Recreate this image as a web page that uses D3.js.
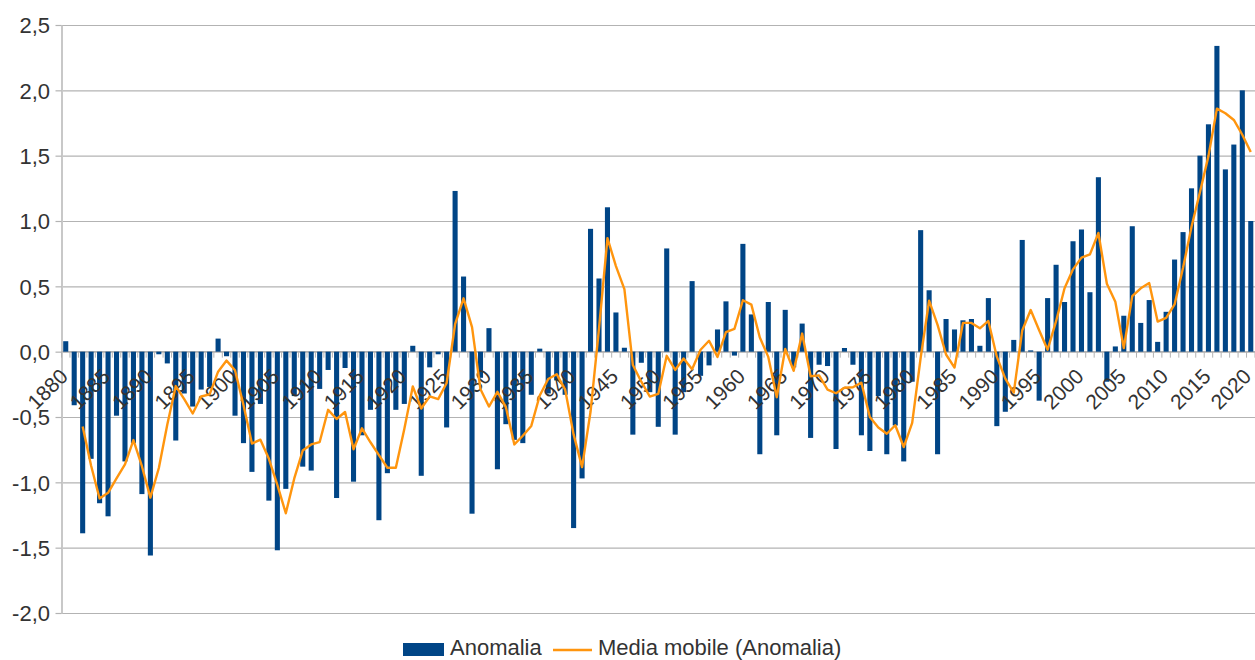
<!DOCTYPE html>
<html>
<head>
<meta charset="utf-8">
<script src="https://cdn.jsdelivr.net/npm/d3@7"></script>
<style>
  body { margin: 0; background: #ffffff; }
  text { font-family: "Liberation Sans", Arial, sans-serif; fill: #333333; }
</style>
</head>
<body>
<svg id="chart" width="1255" height="660"></svg>
<script>
// Annual temperature anomaly, one value per year starting at firstYear
const firstYear = 1880;
const anomalia = [
  0.08, -0.41, -1.39, -0.82, -1.16, -1.26, -0.49, -0.84, -0.70, -1.09,   // 1880s
  -1.56, -0.02, -0.09, -0.68, -0.32, -0.42, -0.29, -0.27, 0.10, -0.035,  // 1890s
  -0.49, -0.70, -0.92, -0.40, -1.14, -1.52, -1.05, -0.34, -0.88, -0.91,  // 1900s
  -0.285, -0.14, -1.12, -0.125, -0.995, -0.64, -0.445, -1.29, -0.93, -0.445, // 1910s
  -0.40, 0.045, -0.95, -0.12, -0.02, -0.58, 1.23, 0.575, -1.24, -0.20,   // 1920s
  0.18, -0.90, -0.555, -0.675, -0.70, -0.33, 0.023, -0.32, -0.22, -0.33, // 1930s
  -1.35, -0.97, 0.94, 0.56, 1.105, 0.30, 0.03, -0.635, -0.085, -0.31,    // 1940s
  -0.575, 0.79, -0.635, -0.31, 0.54, -0.185, -0.105, 0.17, 0.385, -0.03, // 1950s
  0.825, 0.285, -0.785, 0.38, -0.64, 0.32, -0.12, 0.215, -0.66, -0.10,   // 1960s
  -0.11, -0.745, 0.028, -0.10, -0.64, -0.76, -0.34, -0.785, -0.565, -0.84, // 1970s
  -0.23, 0.93, 0.47, -0.785, 0.25, 0.17, 0.24, 0.25, 0.045, 0.41,        // 1980s
  -0.57, -0.46, 0.09, 0.855, 0.01, -0.375, 0.41, 0.665, 0.38, 0.845,     // 1990s
  0.935, 0.455, 1.335, -0.23, 0.04, 0.275, 0.96, 0.22, 0.395, 0.075,     // 2000s
  0.305, 0.705, 0.915, 1.25, 1.50, 1.74, 2.34, 1.395, 1.585, 2.0,        // 2010s
  1.0                                                                   // 2020
];

// Moving-average period of the trend line
const movingPeriod = 3;

const yTicks = [-2, -1.5, -1, -0.5, 0, 0.5, 1, 1.5, 2, 2.5];
const yTickLabels = ["-2,0", "-1,5", "-1,0", "-0,5", "0,0", "0,5", "1,0", "1,5", "2,0", "2,5"];
const xTickLabels = ["1880", "1885", "1890", "1895", "1900", "1905", "1910", "1915", "1920",
  "1925", "1930", "1935", "1940", "1945", "1950", "1955", "1960", "1965", "1970", "1975",
  "1980", "1985", "1990", "1995", "2000", "2005", "2010", "2015", "2020"];
const seriesNames = ["Anomalia", "Media mobile (Anomalia)"];

const barColor = "#004586";
const lineColor = "#ff950e";
const gridColor = "#b3b3b3";

const years = anomalia.map((_, i) => firstYear + i);

const svg = d3.select("#chart");
const plot = { left: 61.5, right: 1255, top: 25, bottom: 613 };

const x = d3.scaleBand()
  .domain(years)
  .range([plot.left, plot.right])
  .paddingInner(0.4)
  .paddingOuter(0.2);

const y = d3.scaleLinear()
  .domain([-2, 2.5])
  .range([plot.bottom, plot.top]);

// Horizontal grid lines
const grid = svg.append("g")
  .attr("transform", `translate(${plot.left},0)`)
  .call(d3.axisLeft(y).tickValues(yTicks).tickFormat("")
    .tickSize(-(plot.right - plot.left)).tickSizeOuter(0));
grid.select(".domain").remove();
grid.selectAll(".tick line").attr("stroke", gridColor).attr("stroke-width", 1.2);

// Value axis with outward ticks and labels
const yAxis = svg.append("g")
  .attr("transform", `translate(${plot.left},0)`)
  .call(d3.axisLeft(y).tickValues(yTicks)
    .tickFormat((d, i) => yTickLabels[i])
    .tickSize(6).tickSizeOuter(0).tickPadding(5.5));
yAxis.select(".domain").attr("stroke", "#c8c8c8").attr("stroke-width", 2);
yAxis.selectAll(".tick line").attr("stroke", gridColor).attr("stroke-width", 1.2);
yAxis.selectAll(".tick text")
  .attr("font-size", 22)
  .attr("font-family", "Liberation Sans, Arial, sans-serif")
  .attr("fill", "#333333")
  .attr("dy", "0.36em");

// Category axis along the zero line, ticks on band boundaries
const zeroY = y(0);
const xAxis = svg.append("g");
xAxis.append("line")
  .attr("x1", plot.left).attr("x2", plot.right)
  .attr("y1", zeroY).attr("y2", zeroY)
  .attr("stroke", gridColor).attr("stroke-width", 1.2);
const boundaries = years.map(yr => x(yr) - x.step() * x.paddingInner() / 2)
  .concat([plot.right]);
xAxis.selectAll("line.boundary")
  .data(boundaries)
  .join("line")
  .attr("class", "boundary")
  .attr("x1", d => d).attr("x2", d => d)
  .attr("y1", zeroY).attr("y2", zeroY + 6)
  .attr("stroke", gridColor).attr("stroke-width", 1);

// Anomaly bars
svg.append("g")
  .selectAll("rect")
  .data(years.map((yr, i) => ({ yr, v: anomalia[i] })))
  .join("rect")
  .attr("x", d => x(d.yr))
  .attr("width", x.bandwidth())
  .attr("y", d => y(Math.max(0, d.v)))
  .attr("height", d => Math.abs(y(d.v) - y(0)))
  .attr("fill", barColor);

// Rotated year labels every five years
svg.append("g")
  .selectAll("text")
  .data(xTickLabels)
  .join("text")
  .attr("transform", d => {
    const cx = x(+d) + x.bandwidth() / 2;
    return `translate(${Math.min(cx + 3.5, plot.right - 2.5)},${zeroY + 26}) rotate(-45)`;
  })
  .attr("text-anchor", "end")
  .attr("font-size", 21)
  .text(d => d);

// Trend line: trailing moving average of the anomaly series
const trend = years.map((yr, i) => {
  if (i < movingPeriod - 1) return null;
  return { yr, v: d3.mean(anomalia.slice(i - movingPeriod + 1, i + 1)) };
}).filter(d => d !== null);

svg.append("path")
  .datum(trend)
  .attr("fill", "none")
  .attr("stroke", lineColor)
  .attr("stroke-width", 2.4)
  .attr("stroke-linejoin", "round")
  .attr("d", d3.line()
    .x(d => x(d.yr) + x.bandwidth() / 2)
    .y(d => y(d.v)));

// Legend
const legend = svg.append("g");
legend.append("rect")
  .attr("x", 403).attr("y", 643).attr("width", 41).attr("height", 13)
  .attr("fill", barColor);
legend.append("text")
  .attr("x", 450).attr("y", 655)
  .attr("font-size", 22)
  .text(seriesNames[0]);
legend.append("line")
  .attr("x1", 553).attr("x2", 592).attr("y1", 650).attr("y2", 650)
  .attr("stroke", lineColor).attr("stroke-width", 2.4);
legend.append("text")
  .attr("x", 598).attr("y", 655)
  .attr("font-size", 22)
  .text(seriesNames[1]);
</script>
</body>
</html>
